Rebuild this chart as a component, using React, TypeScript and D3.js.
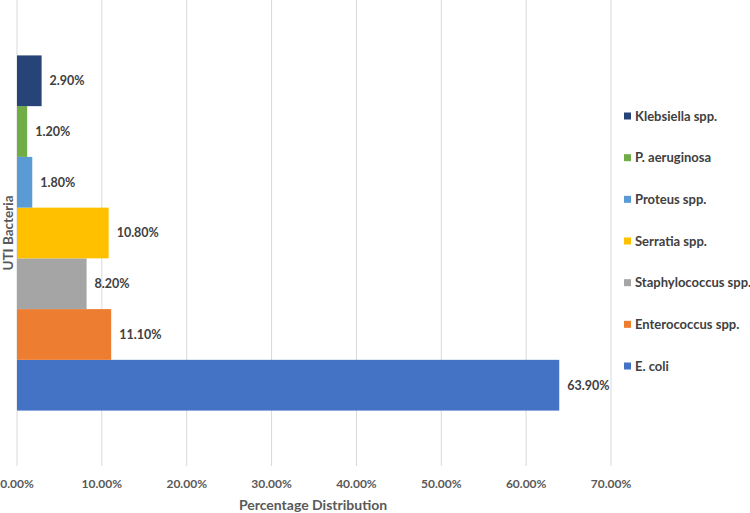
import React from "react";
import * as d3 from "d3";

const categories = ["E. coli", "Enterococcus spp.", "Staphylococcus spp.", "Serratia spp.", "Proteus spp.", "P. aeruginosa", "Klebsiella spp."];
const values = [63.9, 11.1, 8.2, 10.8, 1.8, 1.2, 2.9];
const colors = ["#4472C4", "#ED7D31", "#A5A5A5", "#FFC000", "#5B9BD5", "#70AD47", "#264478"];
const xTicks = [0, 10, 20, 30, 40, 50, 60, 70];

const W = 750, H = 513;
const FONT = "Lato, 'Open Sans', sans-serif";

export default function App() {
  const x = d3.scaleLinear().domain([0, 70]).range([17, 611]);
  const plotTop = 0, plotBottom = 466;
  const band = d3.scaleBand().domain(["UTI"]).range([plotBottom, plotTop]).paddingInner(0).paddingOuter(0.156);
  const y = d3.scaleBand<number>().domain(d3.range(categories.length)).range([band("UTI")! + band.bandwidth(), band("UTI")!]).padding(0);
  const legendY = d3.scalePoint<number>().domain(d3.range(categories.length)).range([366, 116]);

  return (
    <svg width={W} height={H} style={{ position: "absolute", left: 0, top: 0, background: "#fff", fontFamily: FONT }}>
      {xTicks.map(t => (
        <line key={t} x1={x(t)} x2={x(t)} y1={plotTop} y2={plotBottom} stroke="#D9D9D9" strokeWidth={1} />
      ))}
      {values.map((v, i) => (
        <rect key={i} x={x(0)} y={y(i)!} width={x(v) - x(0)} height={y.bandwidth()} fill={colors[i]} />
      ))}
      {values.map((v, i) => (
        <text key={"l" + i} x={x(v) + 8} y={y(i)! + y.bandwidth() / 2} dy="0.35em" fontSize={12.5} fontWeight="bold" fill="#404040">
          {v.toFixed(2) + "%"}
        </text>
      ))}
      {xTicks.map(t => (
        <text key={"t" + t} x={x(t)} y={488} textAnchor="middle" fontSize={12} fontWeight="bold" fill="#595959">
          {t.toFixed(2) + "%"}
        </text>
      ))}
      <text x={313} y={510} textAnchor="middle" fontSize={14} fontWeight="bold" fill="#595959">Percentage Distribution</text>
      <text transform={`translate(8,233) rotate(-90)`} dy="0.35em" textAnchor="middle" fontSize={13.5} fontWeight="bold" fill="#595959">UTI Bacteria</text>
      {categories.map((c, i) => (
        <g key={"lg" + i} transform={`translate(624,${legendY(i)})`}>
          <rect x={0} y={-3.5} width={7} height={7} fill={colors[i]} />
          <text x={11} y={0} dy="0.35em" fontSize={13} fontWeight="bold" fill="#404040">{c}</text>
        </g>
      ))}
    </svg>
  );
}
